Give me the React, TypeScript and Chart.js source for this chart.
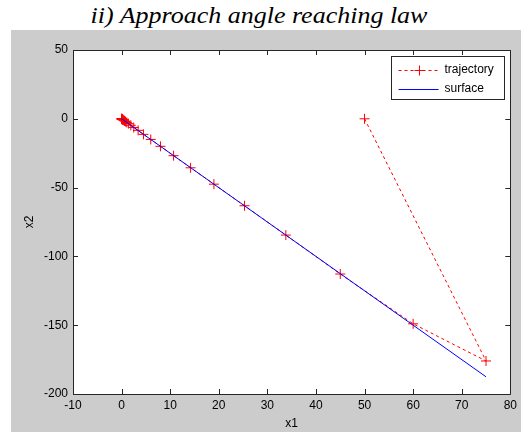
import { useEffect, useRef } from "react";
import { Chart, registerables } from "chart.js";

Chart.register(...registerables);

// Trajectory of the state (x1, x2) under the approach angle reaching law
const trajectoryX = [50, 75, 60, 45, 33.8, 25.3, 19, 14.2, 10.7, 8, 6, 4.5, 3.4, 2.5, 1.9, 1.4, 1.07, 0.8, 0.6, 0.45, 0.34, 0.25, 0.19, 0.14, 0.1, 0.08, 0.06, 0.04, 0.03, 0.02, 0.01, 0];
const trajectoryY = [0, -176, -149, -112.8, -84.5, -63.2, -47.5, -35.6, -26.8, -20, -15, -11.3, -8.4, -6.3, -4.7, -3.5, -2.7, -2, -1.5, -1.1, -0.84, -0.63, -0.47, -0.35, -0.27, -0.2, -0.15, -0.1, -0.08, -0.05, -0.03, 0];

// Sliding surface
const surfaceX = [0, 75];
const surfaceY = [0, -187.5];

const xTicks = [-10, 0, 10, 20, 30, 40, 50, 60, 70, 80];
const yTicks = [-200, -150, -100, -50, 0, 50];

const legendLabels = ["trajectory", "surface"];

const RED = "rgb(255,0,0)";
const BLUE = "rgb(0,0,255)";
const AXIS = "#262626";
const FONT = "'Liberation Sans', Arial, sans-serif";

const toPoints = (xs: number[], ys: number[]) => xs.map((x, i) => ({ x, y: ys[i] }));

// White plotting area, boxed axes with inward tick marks, and a boxed legend
const axesPlugin = {
  id: "matlabAxes",
  beforeDraw(chart: any) {
    const { ctx, chartArea: a } = chart;
    ctx.save();
    ctx.fillStyle = "#ffffff";
    ctx.fillRect(a.left, a.top, a.right - a.left, a.bottom - a.top);
    ctx.restore();
  },
  afterDraw(chart: any) {
    const { ctx, chartArea: a, scales } = chart;
    const tl = 5;
    ctx.save();
    ctx.strokeStyle = AXIS;
    ctx.lineWidth = 1;
    ctx.beginPath();
    ctx.rect(Math.round(a.left) + 0.5, Math.round(a.top) + 0.5, Math.round(a.right - a.left), Math.round(a.bottom - a.top));
    for (const v of xTicks) {
      const px = Math.round(scales.x.getPixelForValue(v)) + 0.5;
      ctx.moveTo(px, a.bottom);
      ctx.lineTo(px, a.bottom - tl);
      ctx.moveTo(px, a.top);
      ctx.lineTo(px, a.top + tl);
    }
    for (const v of yTicks) {
      const py = Math.round(scales.y.getPixelForValue(v)) + 0.5;
      ctx.moveTo(a.left, py);
      ctx.lineTo(a.left + tl, py);
      ctx.moveTo(a.right, py);
      ctx.lineTo(a.right - tl, py);
    }
    ctx.stroke();

    // legend
    const w = 113;
    const h = 43;
    const bx = Math.round(a.right - 6 - w) + 0.5;
    const by = Math.round(a.top + 6) + 0.5;
    ctx.fillStyle = "#ffffff";
    ctx.fillRect(bx, by, w, h);
    ctx.strokeStyle = AXIS;
    ctx.strokeRect(bx, by, w, h);

    const x0 = bx + 7;
    const x1 = bx + 47;
    const rows = [by + 13, by + 32];

    ctx.strokeStyle = RED;
    ctx.setLineDash([3, 3]);
    ctx.beginPath();
    ctx.moveTo(x0, Math.round(rows[0]) + 0.5);
    ctx.lineTo(x1, Math.round(rows[0]) + 0.5);
    ctx.stroke();
    ctx.setLineDash([]);
    const mx = Math.round((x0 + x1) / 2) + 0.5;
    const my = Math.round(rows[0]) + 0.5;
    ctx.beginPath();
    ctx.moveTo(mx - 5, my);
    ctx.lineTo(mx + 5, my);
    ctx.moveTo(mx, my - 5);
    ctx.lineTo(mx, my + 5);
    ctx.stroke();

    ctx.strokeStyle = BLUE;
    ctx.beginPath();
    ctx.moveTo(x0, Math.round(rows[1]) + 0.5);
    ctx.lineTo(x1, Math.round(rows[1]) + 0.5);
    ctx.stroke();

    ctx.fillStyle = "#000000";
    ctx.font = `12px ${FONT}`;
    ctx.textBaseline = "middle";
    ctx.textAlign = "left";
    legendLabels.forEach((t, i) => ctx.fillText(t, bx + 53, rows[i]));
    ctx.restore();
  },
};

export default function App() {
  const canvasRef = useRef<HTMLCanvasElement>(null);

  useEffect(() => {
    const canvas = canvasRef.current;
    if (!canvas) return;
    const chart = new Chart(canvas, {
      type: "scatter",
      data: {
        datasets: [
          {
            label: legendLabels[1],
            data: toPoints(surfaceX, surfaceY),
            showLine: true,
            borderColor: BLUE,
            borderWidth: 1,
            pointRadius: 0,
            order: 0,
          },
          {
            label: legendLabels[0],
            data: toPoints(trajectoryX, trajectoryY),
            showLine: true,
            borderColor: RED,
            borderWidth: 1,
            borderDash: [3, 3],
            pointStyle: "cross",
            pointRadius: 5,
            pointBorderColor: RED,
            pointBorderWidth: 1,
            order: 1,
          },
        ],
      },
      options: {
        animation: false,
        responsive: false,
        maintainAspectRatio: false,
        devicePixelRatio: 1,
        events: [],
        layout: { padding: { left: 8, top: 20, right: 9, bottom: 0 } },
        plugins: {
          legend: { display: false },
          tooltip: { enabled: false },
        },
        scales: {
          x: {
            type: "linear",
            min: -10,
            max: 80,
            afterBuildTicks: (s: any) => {
              s.ticks = xTicks.map((value) => ({ value }));
            },
            afterFit: (s: any) => {
              s.height = 38;
            },
            grid: { display: false, drawTicks: false },
            border: { display: false },
            ticks: { color: "#000", padding: 4, font: { family: FONT, size: 12 }, maxRotation: 0 },
            title: { display: true, text: "x1", color: "#000", font: { family: FONT, size: 12 }, padding: { top: 0, bottom: 1 } },
          },
          y: {
            type: "linear",
            min: -200,
            max: 50,
            afterBuildTicks: (s: any) => {
              s.ticks = yTicks.map((value) => ({ value }));
            },
            afterFit: (s: any) => {
              s.width = 54;
            },
            grid: { display: false, drawTicks: false },
            border: { display: false },
            ticks: { color: "#000", padding: 5, font: { family: FONT, size: 12 } },
            title: { display: true, text: "x2", color: "#000", font: { family: FONT, size: 12 }, padding: { top: 3, bottom: 0 } },
          },
        },
      },
      plugins: [axesPlugin],
    } as any);
    return () => chart.destroy();
  }, []);

  return (
    <div style={{ position: "absolute", left: 0, top: 0, width: 521, height: 432, background: "#ffffff", overflow: "hidden" }}>
      <div
        style={{
          position: "absolute",
          left: 0,
          top: 3,
          width: 518,
          textAlign: "center",
          fontFamily: "'Liberation Serif', 'Times New Roman', serif",
          fontStyle: "italic",
          fontSize: 23,
          lineHeight: "26px",
          color: "#000",
          whiteSpace: "nowrap",
          transform: "scaleX(1.13)",
          transformOrigin: "259px 0",
        }}
      >
        ii) Approach angle reaching law
      </div>
      <div style={{ position: "absolute", left: 11, top: 30, width: 510, height: 402, background: "rgb(204,204,204)" }}>
        <canvas ref={canvasRef} width={510} height={402} style={{ display: "block" }} />
      </div>
    </div>
  );
}
